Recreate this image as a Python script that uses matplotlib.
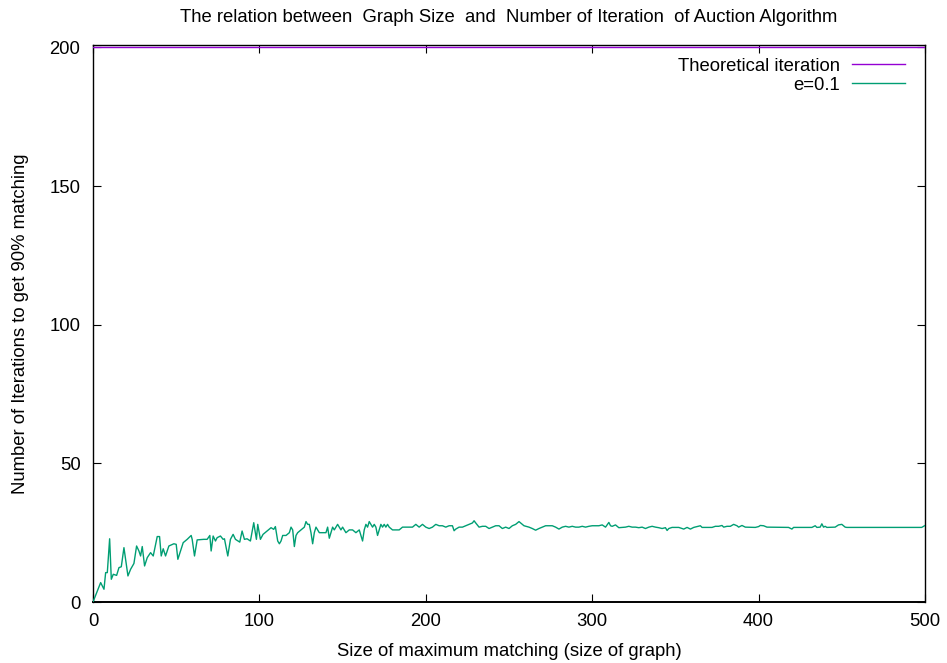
import matplotlib
matplotlib.use('Agg')
import matplotlib.pyplot as plt

plt.rcParams['font.family'] = ['Liberation Sans', 'DejaVu Sans']

# (graph size, iterations needed) pairs
points = [
    (0, 0), (2, 3), (4.6, 7), (6.6, 4.6), (7.6, 10.6), (8.6, 10.6), (10, 22.8), (11, 8.2), (12.2, 10), (14.2, 9.6),
    (15.6, 12.4), (17, 12.7), (18.6, 19.6), (19.6, 15.4), (21, 9.4), (22.6, 11.8), (24.6, 13.9), (26.2, 20.2), (27.6, 18.4), (28.6, 16.6),
    (29.6, 20), (31, 13), (32.6, 16), (34.6, 17.8), (36.2, 16.6), (38.6, 23.6), (40, 23.6), (41, 16.6), (42.2, 19.2), (43.6, 16.6),
    (45.6, 20.2), (48.6, 21), (50, 20.8), (51, 15.4), (52.6, 18.4), (54.2, 21.4), (56.6, 22.6), (59, 24), (59.6, 22.6), (61, 16.6),
    (62.6, 22.4), (66.6, 22.6), (68.6, 22.6), (70.2, 24), (71, 18.4), (72.2, 23.8), (73.6, 22), (74.6, 23.2), (76.6, 23.8), (78.2, 22.6),
    (79, 22.8), (81, 16.6), (82.6, 22.6), (84.2, 24.4), (85.6, 22.6), (88.2, 21.6), (89.6, 25.6), (91, 22.6), (92.6, 22.8), (94.6, 22),
    (96.6, 28.6), (98.2, 22.6), (99, 28), (100.6, 22.6), (102.2, 24.4), (104.6, 25.6), (107, 26.8), (108.6, 26.2), (109.6, 27.2), (111, 22),
    (112, 21), (113, 22), (114, 24), (116, 24), (118, 25), (119, 27), (120, 26), (121, 20),
    (122, 24), (123, 25), (125, 26), (127, 27), (128, 29), (129, 28), (130, 28), (131, 25), (132, 21), (133, 25),
    (134, 27), (135, 26), (136, 25), (138, 25), (140, 25), (141, 27), (142, 23), (143, 25), (144, 27), (145, 26),
    (147, 28), (148, 27), (149, 26), (150, 27), (151, 26), (152, 25), (154, 26), (156, 26), (158, 25), (160, 26),
    (162, 22), (163, 26), (164, 28), (165, 27), (166, 29), (167, 28), (168, 27), (169, 28), (170, 27), (171, 24),
    (172, 26), (173, 28), (174, 27), (175, 28), (176, 27), (177, 28), (178, 27), (180, 26), (182, 26), (184, 26),
    (186, 27), (188, 27), (190, 27), (192, 27), (194, 28), (196, 27), (198, 28), (200, 27), (202, 26.5), (204, 27),
    (206, 28), (208, 27.5), (210, 27.5), (212, 27), (214, 27.5), (216, 27.5), (217, 25.7), (218, 26.3), (220, 27), (222, 27),
    (224, 27.5), (226, 28), (228, 28.5), (229, 29.3), (230, 28.5), (232, 27), (234, 27.3), (236, 27.3), (238, 26.5), (240, 27),
    (242, 27.5), (244, 27.5), (246, 26.5), (248, 27), (250, 26.5), (252, 27.5), (254, 28), (256, 29), (257, 28.5), (259, 27.5),
    (262, 27), (264, 26.5), (266, 25.9), (268, 26.5), (270, 27), (272, 27.5), (274, 27.5), (276, 27.5), (278, 27), (280, 26.3),
    (282, 27), (284, 27.3), (286, 27), (288, 27.3), (290, 27), (292, 27), (294, 27.3), (296, 27), (298, 27.3), (300, 27.5),
    (302, 27.5), (304, 27.5), (306, 27.8), (308, 27), (310, 28.7), (311, 27.5), (312, 27.3), (314, 27.8), (316, 26.8), (318, 26.9),
    (320, 27), (322, 27.3), (324, 27), (326, 27), (328, 26.8), (330, 27), (332, 26.5), (334, 27), (336, 27.3), (338, 27),
    (340, 26.8), (342, 26.5), (344, 26.8), (345, 25.8), (346, 26.5), (348, 26.9), (352, 26.9), (355, 26.3), (357, 26.9), (359, 26.3),
    (361, 26.9), (365, 27.5), (366, 26.9), (372, 26.9), (374, 27.3), (376, 27.3), (378, 27.6), (379, 27), (381, 27.3), (383, 27.3),
    (385, 28), (387, 27.5), (388, 27), (390, 27.6), (392, 27), (398, 26.9), (400, 27.2), (401, 27.6), (403, 27.5), (405, 27),
    (418, 26.9), (420, 26.3), (421, 26.9), (432, 26.9), (434, 27.5), (435, 26.9), (437, 27), (438, 28.2), (439, 27), (440, 27.3),
    (441, 26.9), (446, 27), (448, 27.8), (450, 28), (452, 27), (453, 26.9), (498, 26.9), (500, 27.6),
]
size_x = [p[0] for p in points]
iterations = [p[1] for p in points]

# theoretical bound
theory_x = [0, 500]
theory_y = [200, 200]

fs = 13.3
fig = plt.figure(figsize=(9.47, 6.63), dpi=100)
ax = fig.add_axes([0.0982, 0.092, 0.8786, 0.8394])

ax.plot(theory_x, theory_y, color='#9400d3', lw=1.0, label='Theoretical iteration', zorder=3)
ax.plot(size_x, iterations, color='#009e73', lw=1.0, label='e=0.1', zorder=3)

ax.set_xlim(0, 500)
ax.set_ylim(0, 200.7)
ax.set_xticks([0, 100, 200, 300, 400, 500])
ax.set_yticks([0, 50, 100, 150, 200])
ax.tick_params(direction='in', length=6, width=0.8, labelsize=fs, top=True, right=True)
ax.tick_params(axis='y', pad=9)
ax.tick_params(axis='x', pad=8)
for s in ax.spines.values():
    s.set_linewidth(1.0)
ax.spines['bottom'].set_linewidth(1.4)

ax.set_title('The relation between  Graph Size  and  Number of Iteration  of Auction Algorithm',
             fontsize=fs, pad=17)
ax.set_xlabel('Size of maximum matching (size of graph)', fontsize=fs, labelpad=9)
ax.set_ylabel('Number of Iterations to get 90% matching', fontsize=fs, labelpad=15)

ax.legend(loc='upper right', frameon=False, markerfirst=False, fontsize=fs,
          handlelength=2.87, handletextpad=0.65, labelspacing=0.1,
          borderpad=0, borderaxespad=0, bbox_to_anchor=(0.976, 0.978))

plt.savefig('out.png', dpi=100)
